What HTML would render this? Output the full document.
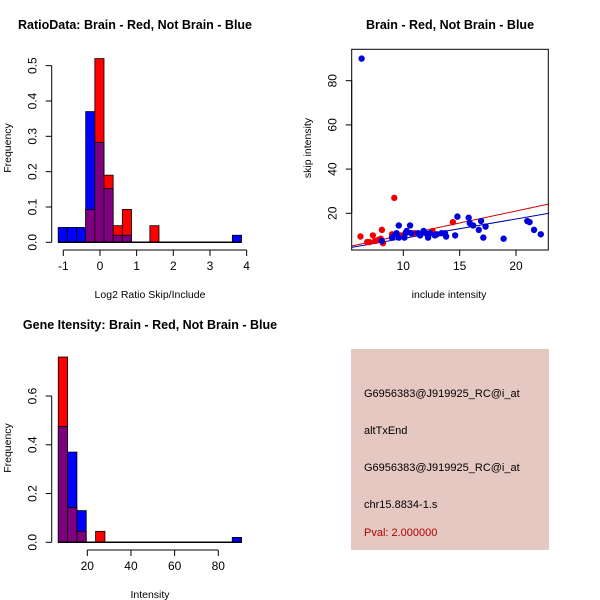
<!DOCTYPE html>
<html><head><meta charset="utf-8"><style>
body{margin:0;background:#fff;}
svg{display:block;font-family:"Liberation Sans",sans-serif;}
</style></head><body>
<svg id="s" width="600" height="600" xmlns="http://www.w3.org/2000/svg">
<rect width="600" height="600" fill="#fff"/>
<g id="p1"></g>
<g id="p2"></g>
<g id="p3"></g>
<g id="p4">
<rect x="351" y="349" width="198" height="201" fill="#e6c8c2"/>
<text x="364" y="397" font-size="11" fill="#000">G6956383@J919925_RC@i_at</text>
<text x="364" y="434" font-size="11" fill="#000">altTxEnd</text>
<text x="364" y="471" font-size="11" fill="#000">G6956383@J919925_RC@i_at</text>
<text x="364" y="508" font-size="11" fill="#000">chr15.8834-1.s</text>
<text x="364" y="536" font-size="11" fill="#b00000">Pval: 2.000000</text>
</g>
</svg>
<script>
// Panel 1 data: ratio histogram
const ratioBinStart = -1.14;
const ratioBinWidth = 0.25;
const ratioBlue = [0.042,0.042,0.042,0.37,0.283,0.152,0.02,0.02,0,0,0,0,0,0,0,0,0,0,0,0.02];
const ratioRed  = [0,0,0,0.093,0.52,0.19,0.047,0.093,0,0,0.047,0,0,0,0,0,0,0,0,0];
const ratioXTicks = [-1,0,1,2,3,4];
const ratioYTicks = [0,0.1,0.2,0.3,0.4,0.5];
// Panel 2 data: scatter
const redX = [6.2,6.8,7.0,7.3,7.5,7.8,8.0,8.1,8.2,9.0,9.2,12.6,14.4,9.8,11.0];
const redY = [9.5,7,7,10,7.5,8,8.5,12.5,6.5,10.5,27,12,16,10,11];
const blueX = [6.3,8.1,9.0,9.2,9.4,9.6,9.6,10.1,10.2,10.3,10.6,10.7,11.3,11.5,11.8,12.0,12.2,12.4,12.8,13.0,13.4,13.7,13.8,14.6,14.8,15.8,15.9,16.2,16.7,16.9,17.1,17.3,18.9,21.0,21.2,21.6,22.2];
const blueY = [90,7.5,9,10,11,14.5,9,9,11,12,14.5,11,11,10,12,11,9,11,10,10.5,11,11,9.5,10,18.5,18,15.5,14.5,12.5,16.5,9,14,8.5,16.5,16,12.5,10.5];
const redFit = [-0.69,1.086];
const blueFit = [-0.17,0.88];
const scatterXTicks = [10,15,20];
const scatterYTicks = [20,40,60,80];
// Panel 3 data: gene intensity histogram
const geneBinLeft = [6.7,10.97,15.24,23.8,86.4];
const geneBinWidth = 4.27;
const geneBlue = [0.475,0.37,0.13,0,0.02];
const geneRed = [0.76,0.143,0.045,0.045,0];
const geneXTicks = [20,40,60,80];
const geneYTicks = [0,0.2,0.4,0.6];

const NS="http://www.w3.org/2000/svg";
function mk(parent,tag,attrs,text){const e=document.createElementNS(NS,tag);for(const k in attrs)e.setAttribute(k,attrs[k]);if(text!==undefined)e.textContent=text;parent.appendChild(e);return e;}
const BLUE="#0000ff",RED="#ff0000",PURP="#7f007f";

function hist(g,sx,sy,lefts,w,blue,red){
  for(let i=0;i<lefts.length;i++){
    const x0=sx(lefts[i]),x1=sx(lefts[i]+w);
    const b=blue[i],r=red[i];
    const hi=Math.max(b,r),lo=Math.min(b,r);
    if(hi>0){
      const r1=mk(g,'rect',{x:x0,y:sy(hi),width:x1-x0,height:sy(0)-sy(hi),fill:b>r?BLUE:RED,stroke:'#000','stroke-width':0.8});
      
      
    }
    if(lo>0){
      const r2=mk(g,'rect',{x:x0,y:sy(lo),width:x1-x0,height:sy(0)-sy(lo),fill:PURP,stroke:'#000','stroke-width':0.8});
      
      
    }
  }
}
function xaxis(g,sx,ticks,y){
  mk(g,'line',{x1:sx(ticks[0]),x2:sx(ticks[ticks.length-1]),y1:y,y2:y,stroke:'#000'});
  ticks.forEach(t=>{mk(g,'line',{x1:sx(t),x2:sx(t),y1:y,y2:y+6,stroke:'#000'});
    const tl=mk(g,'text',{x:sx(t),y:y+20,'font-size':12,'text-anchor':'middle'},String(t));
    
    });
}
function yaxis(g,sy,ticks,x,fmt){
  mk(g,'line',{x1:x,x2:x,y1:sy(ticks[0]),y2:sy(ticks[ticks.length-1]),stroke:'#000'});
  ticks.forEach(t=>{mk(g,'line',{x1:x-6,x2:x,y1:sy(t),y2:sy(t),stroke:'#000'});
    const tl=mk(g,'text',{x:x-15,y:sy(t),'font-size':12,'text-anchor':'middle',transform:`rotate(-90 ${x-15} ${sy(t)})`},fmt(t));
    
    });
}
function title(g,x,y,s){const t=mk(g,'text',{x:x,y:y,'font-size':12.5,'font-weight':'bold','text-anchor':'middle'},s);}
function xlab(g,x,y,s){const t=mk(g,'text',{x:x,y:y,'font-size':10.5,'text-anchor':'middle'},s);}
function ylab(g,x,y,s){const t=mk(g,'text',{x:x,y:y,'font-size':10.5,'text-anchor':'middle',transform:`rotate(-90 ${x} ${y})`},s);}

// Panel 1
(function(){
  const g=document.getElementById('p1');
  const sx=v=>63.3+(v+1)*36.67, sy=v=>242.3-v*353.3;
  const lefts=ratioBlue.map((_,i)=>ratioBinStart+i*ratioBinWidth);
  hist(g,sx,sy,lefts,ratioBinWidth,ratioBlue,ratioRed);
  mk(g,'line',{x1:sx(ratioBinStart),x2:sx(3.86),y1:sy(0),y2:sy(0),stroke:'#000','stroke-width':1.5});
  xaxis(g,sx,ratioXTicks,250);
  yaxis(g,sy,ratioYTicks,51.7,t=>t.toFixed(1));
  title(g,135,29,'RatioData: Brain - Red, Not Brain - Blue');
  xlab(g,150,298,'Log2 Ratio Skip/Include');
  ylab(g,11,148,'Frequency');
})();
// Panel 2
(function(){
  const g=document.getElementById('p2');
  const sx=v=>403.3+(v-10)*11.27, sy=v=>213.3-(v-20)*2.21;
  mk(g,'rect',{x:351.7,y:49.3,width:196.6,height:200.7,fill:'none',stroke:'#000'});
  const cp=mk(g,'clipPath',{id:'c2'});mk(cp,'rect',{x:351.7,y:49.3,width:196.6,height:200.7});
  const lx0=(351.7-403.3)/11.27+10, lx1=(548.3-403.3)/11.27+10;
  [[redFit,'#cc0000','fit-line-red'],[blueFit,'#0000aa','fit-line-blue']].forEach(([f,c,n])=>{
    const l=mk(g,'line',{x1:sx(lx0),y1:sy(f[0]+f[1]*lx0),x2:sx(lx1),y2:sy(f[0]+f[1]*lx1),stroke:c,'clip-path':'url(#c2)'});
    
    
  });
  redX.forEach((x,i)=>{const c=mk(g,'circle',{cx:sx(x),cy:sy(redY[i]),r:3.2,fill:'#ee0000'});
    
    });
  blueX.forEach((x,i)=>{const c=mk(g,'circle',{cx:sx(x),cy:sy(blueY[i]),r:3.2,fill:'#0000dd'});
    
    });
  xaxis(g,sx,scatterXTicks,250);
  yaxis(g,sy,scatterYTicks,351.7,t=>String(t));
  title(g,450,29,'Brain - Red, Not Brain - Blue');
  xlab(g,449,298,'include intensity');
  ylab(g,311,148,'skip intensity');
})();
// Panel 3
(function(){
  const g=document.getElementById('p3');
  const sx=v=>87.3+(v-20)*2.183, sy=v=>542.3-v*243.8;
  hist(g,sx,sy,geneBinLeft,geneBinWidth,geneBlue,geneRed);
  mk(g,'line',{x1:sx(6.7),x2:sx(90.7),y1:sy(0),y2:sy(0),stroke:'#000','stroke-width':1.5});
  xaxis(g,sx,geneXTicks,550);
  yaxis(g,sy,geneYTicks,51.7,t=>t.toFixed(1));
  title(g,150,329,'Gene Itensity: Brain - Red, Not Brain - Blue');
  xlab(g,150,598,'Intensity');
  ylab(g,11,448,'Frequency');
})();
</script>
</body></html>
